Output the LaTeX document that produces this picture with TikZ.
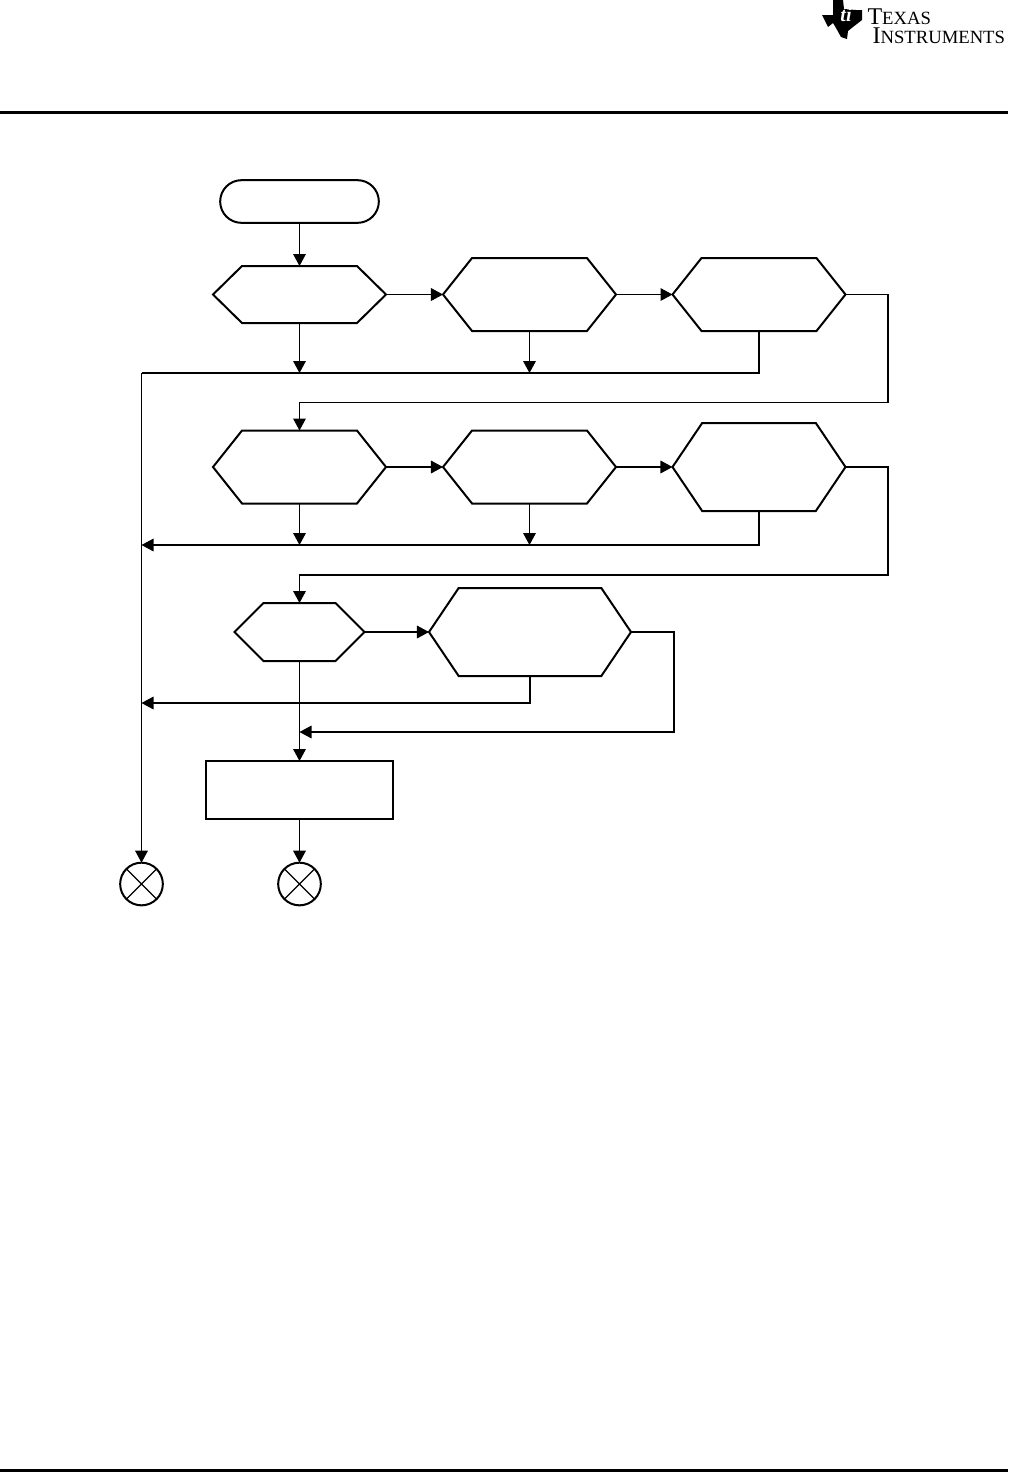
\documentclass[tikz,border=0pt]{standalone}
\usepackage{fontspec}
\setmainfont{Liberation Serif}
\usetikzlibrary{positioning,arrows.meta,shapes.symbols,shapes.misc}
\begin{document}
\begin{tikzpicture}[x=0.75pt, y=-0.75pt, line width=0.85pt,
  hexa/.style={draw, signal, signal to=east and west, inner sep=0pt, outer sep=0pt, minimum width=129.75pt, line width=1.5pt},
  hexb/.style={hexa, minimum height=54.75pt, signal pointer angle=103},
  hexc/.style={hexa, minimum height=66pt, signal pointer angle=112},
  term/.style={draw, rounded rectangle, minimum width=119pt, minimum height=32pt, inner sep=0pt, outer sep=0pt, line width=1.5pt},
  proc/.style={draw, rectangle, minimum width=140pt, minimum height=43.5pt, inner sep=0pt, outer sep=0pt, line width=1.5pt},
  stopper/.style={draw, circle, minimum size=32pt, inner sep=0pt, outer sep=0pt, line width=1.5pt, path picture={\draw[line width=0.85pt] (path picture bounding box.south west)--(path picture bounding box.north east) (path picture bounding box.north west)--(path picture bounding box.south east);}},
  arr/.style={-{Triangle[length=9pt,width=9.5pt]}}]
\useasboundingbox (0,0) rectangle (1008,1472);
% header, footer
\fill (0,111) rectangle (1008,114);
\fill (0,1469) rectangle (1008,1472);
% logo
\fill (833,0) -- (843,0) -- (844,9) -- (856,10) -- (862,10) -- (862,20) -- (853,27) -- (848,31) -- (847,39) -- (841,37) -- (836,28) -- (833,23) -- (828,27) -- (822,15) -- (833,15) -- cycle;
\node[text=white, font=\fontsize{15pt}{15pt}\selectfont\bfseries\itshape, inner sep=0pt] (logomark) at (846,15) {ti};
\node[align=left, inner sep=0pt, anchor=base west, font=\fontsize{18pt}{14.25pt}\selectfont] (logotext) at (867,43) {T{\fontsize{14pt}{14.25pt}\selectfont EXAS}\\\hspace*{3.75pt}I{\fontsize{14pt}{14.25pt}\selectfont NSTRUMENTS}};
% first row
\node[term] (start) at (299.5,201.5) {};
\node[hexa, minimum height=42.75pt, signal pointer angle=89] (reada) at (299.5,294.5) {};
\node[hexb] (readb) at (529.5,294.5) {};
\node[hexb] (readc) at (759,294.5) {};
% second row
\node[hexb] (readd) at (299.5,467) {};
\node[hexb] (reade) at (529.5,467) {};
\node[hexc] (readf) at (759,467) {};
% third row
\node[hexa, minimum width=97.5pt, minimum height=43.5pt, signal pointer angle=90] (readg) at (299.5,632) {};
\node[hexc, minimum width=151.5pt] (readh) at (530,632) {};
\node[proc] (done) at (299.5,790) {};
% stops
\node[stopper] (stopa) at (141.5,884) {};
\node[stopper] (stopb) at (299.5,884) {};
% helper points
\coordinate (busa) at (141.5,373);
\coordinate (busb) at (141.5,545);
\coordinate (busc) at (141.5,703);
\coordinate (mergeh) at (299.5,732);
\draw[arr] (start)--(reada);
\draw[arr] (reada)--(readb);
\draw[arr] (readb)--(readc);
\draw[arr] (reada.south)--(reada.south |- busa);
\draw[arr] (readb.south)--(readb.south |- busa);
\draw (readc.south) |- (busa);
\draw[arr] (busa)--(stopa);
\draw[arr] (readc.east) -- ++(42.5,0) |- ++(-42.5,108) -| (readd.north);
\draw[arr] (readd)--(reade);
\draw[arr] (reade)--(readf);
\draw[arr] (readd.south)--(readd.south |- busb);
\draw[arr] (reade.south)--(reade.south |- busb);
\draw[arr] (readf.south) |- (busb);
\draw[arr] (readf.east) -- ++(42.5,0) |- ++(-42.5,108) -| (readg.north);
\draw[arr] (readg)--(readh);
\draw[arr] (readh.south) |- (busc);
\draw[arr] (readh.east) -| ++(43,100) -- (mergeh);
\draw[arr] (readg.south)--(done.north);
\draw[arr] (done)--(stopb);
\end{tikzpicture}
\end{document}
